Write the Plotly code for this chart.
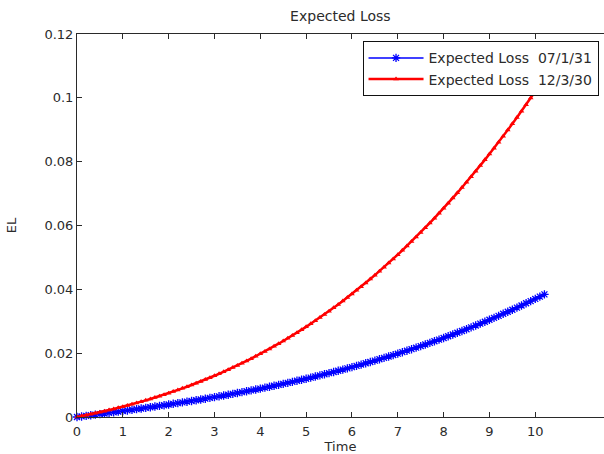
import plotly.graph_objects as go

# Time grid (years) and expected-loss curves for the two vintages
time = [round(0.1 * i, 1) for i in range(103)]

el_070131 = [0.0, 0.00018, 0.00036, 0.00054, 0.00073, 0.00091, 0.00110, 0.00129, 0.00148, 0.00167,
             0.00186, 0.00206, 0.00226, 0.00246, 0.00266, 0.00286, 0.00307, 0.00327, 0.00348, 0.00370,
             0.00391, 0.00413, 0.00435, 0.00457, 0.00480, 0.00503, 0.00526, 0.00550, 0.00574, 0.00598,
             0.00623, 0.00648, 0.00673, 0.00699, 0.00725, 0.00751, 0.00778, 0.00805, 0.00833, 0.00861,
             0.00890, 0.00919, 0.00948, 0.00978, 0.01008, 0.01039, 0.01070, 0.01102, 0.01134, 0.01167,
             0.01200, 0.01234, 0.01268, 0.01303, 0.01338, 0.01374, 0.01411, 0.01448, 0.01485, 0.01524,
             0.01562, 0.01602, 0.01642, 0.01683, 0.01724, 0.01766, 0.01808, 0.01852, 0.01895, 0.01940,
             0.01985, 0.02031, 0.02078, 0.02125, 0.02173, 0.02222, 0.02271, 0.02322, 0.02373, 0.02424,
             0.02477, 0.02530, 0.02584, 0.02639, 0.02695, 0.02751, 0.02808, 0.02866, 0.02925, 0.02985,
             0.03046, 0.03107, 0.03169, 0.03233, 0.03297, 0.03362, 0.03427, 0.03494, 0.03562, 0.03630,
             0.03700, 0.03771, 0.03842]

el_120330 = [0.0, 0.00028, 0.00058, 0.00088, 0.00119, 0.00150, 0.00183, 0.00217, 0.00251, 0.00287,
             0.00323, 0.00361, 0.00399, 0.00439, 0.00480, 0.00521, 0.00564, 0.00608, 0.00653, 0.00700,
             0.00747, 0.00796, 0.00846, 0.00897, 0.00949, 0.01003, 0.01058, 0.01115, 0.01172, 0.01231,
             0.01292, 0.01354, 0.01417, 0.01482, 0.01548, 0.01616, 0.01685, 0.01756, 0.01828, 0.01902,
             0.01978, 0.02055, 0.02134, 0.02214, 0.02296, 0.02380, 0.02465, 0.02553, 0.02642, 0.02732,
             0.02825, 0.02919, 0.03016, 0.03114, 0.03214, 0.03316, 0.03420, 0.03525, 0.03633, 0.03743,
             0.03854, 0.03968, 0.04084, 0.04202, 0.04322, 0.04444, 0.04568, 0.04694, 0.04823, 0.04953,
             0.05086, 0.05221, 0.05359, 0.05498, 0.05640, 0.05784, 0.05931, 0.06080, 0.06231, 0.06385,
             0.06541, 0.06699, 0.06860, 0.07024, 0.07190, 0.07358, 0.07529, 0.07703, 0.07879, 0.08057,
             0.08239, 0.08423, 0.08609, 0.08798, 0.08990, 0.09185, 0.09383, 0.09583, 0.09786, 0.09991,
             0.10200, 0.10411, 0.10626]

x_ticks = [0, 1, 2, 3, 4, 5, 6, 7, 8, 9, 10]
y_ticks = [0, 0.02, 0.04, 0.06, 0.08, 0.1, 0.12]
y_tick_text = ["0", "0.02", "0.04", "0.06", "0.08", "0.1", "0.12"]

FONT = "DejaVu Sans, Liberation Sans, Arial, sans-serif"
AXIS_COLOR = "#2a2a2a"
TEXT_COLOR = "#2b2b2b"

fig = go.Figure()
fig.add_trace(go.Scatter(
    x=time, y=el_070131, name="Expected Loss  07/1/31",
    mode="lines+markers", cliponaxis=False,
    line=dict(color="#0000ff", width=1.5),
    marker=dict(symbol="asterisk-open", size=7, color="#0000ff",
                line=dict(color="#0000ff", width=1.3)),
))
fig.add_trace(go.Scatter(
    x=time, y=el_120330, name="Expected Loss  12/3/30",
    mode="lines+markers", cliponaxis=False,
    line=dict(color="#ff0000", width=2.5),
    marker=dict(symbol="triangle-up", size=5, color="#ff0000"),
))

fig.update_layout(
    width=604, height=454,
    margin=dict(l=77, r=0, t=34, b=37, autoexpand=False),
    paper_bgcolor="white", plot_bgcolor="white",
    font=dict(family=FONT, size=13, color=TEXT_COLOR),
    title=dict(text="Expected Loss", x=0.5635, xanchor="center",
               y=0.965, yanchor="middle", font=dict(size=14, color=TEXT_COLOR)),
    showlegend=True,
    legend=dict(x=0.5418, y=0.981, xanchor="left", yanchor="top",
                bgcolor="white", bordercolor="#111", borderwidth=1,
                font=dict(size=14, color=TEXT_COLOR),
                tracegroupgap=0, itemwidth=55),
    xaxis=dict(range=[0, 11.5], tickvals=x_ticks, ticks="inside", ticklen=5,
               tickcolor=AXIS_COLOR, showline=True, linecolor=AXIS_COLOR, linewidth=1,
               mirror="ticks", showgrid=False, zeroline=False,
               ticklabelstandoff=2, automargin=False,
               tickfont=dict(size=13, color=TEXT_COLOR),
               title=dict(text="Time", font=dict(size=13, color=TEXT_COLOR), standoff=6)),
    yaxis=dict(range=[0, 0.12], tickvals=y_ticks, ticktext=y_tick_text,
               ticks="inside", ticklen=5, tickcolor=AXIS_COLOR,
               showline=True, linecolor=AXIS_COLOR, linewidth=1,
               mirror=False, showgrid=False, zeroline=False, automargin=False,
               tickfont=dict(size=13, color=TEXT_COLOR),
               title=dict(text="EL", font=dict(size=13, color=TEXT_COLOR), standoff=24)),
)

fig.write_html("out.html")
